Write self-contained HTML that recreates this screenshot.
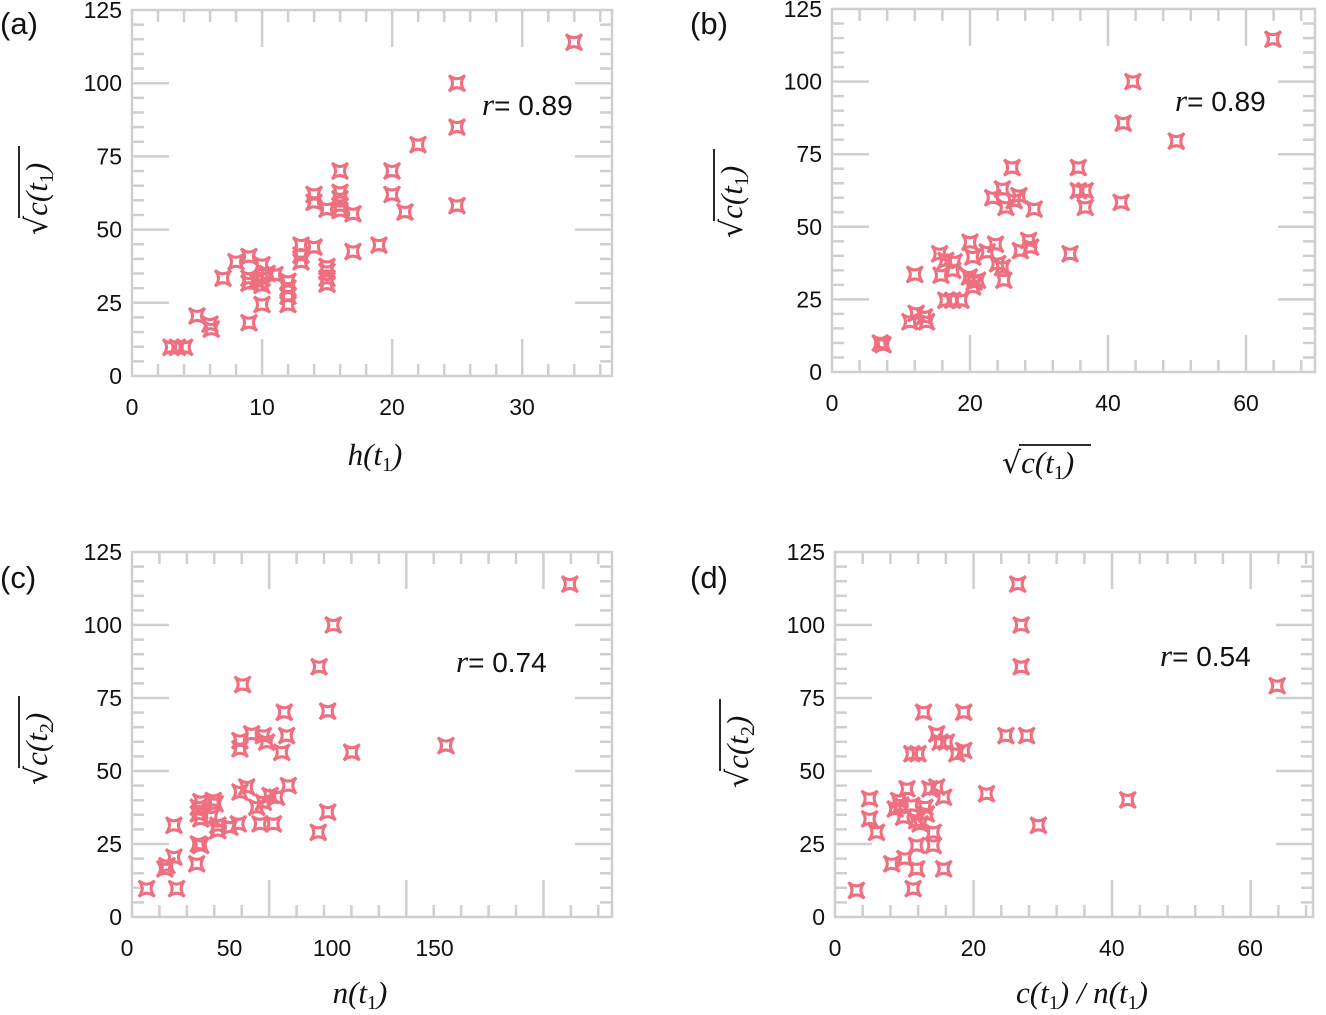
<!DOCTYPE html>
<html><head><meta charset="utf-8">
<style>
html,body{margin:0;padding:0;background:#fff;}
svg{display:block;}
.tk{font-family:"Liberation Sans",sans-serif;font-size:23px;fill:#111;}
.tag{font-family:"Liberation Sans",sans-serif;font-size:31px;fill:#111;}
.ttl{font-family:"Liberation Serif",serif;font-style:italic;font-size:31px;fill:#111;}
.rv{font-family:"Liberation Sans",sans-serif;font-size:28px;fill:#111;}
</style></head>
<body>
<svg id="fig" width="1326" height="1015" viewBox="0 0 1326 1015" xmlns="http://www.w3.org/2000/svg"></svg>
<script>
// Panel (a): h(t1) vs sqrt c(t1)
const aX = [3,4.05,3.5,5,6,6.1,7,8,9,9,9,9,10,10,10,10,9.6,10.4,11,12,12,12,12,13,13,13,14,14,14,15,15,15,15,15,16,16,16,16,16,17,17,19,20,20,21,22,25,25,25,34];
const aY = [9.8,9.8,9.8,20.5,17.7,16,33.4,39,40.8,18.2,33.4,31.7,38,24.4,33.4,31,32.5,35,34.6,32.3,30,27.3,24.4,44.7,41.3,39,44,62,59.3,57,37.4,35.7,33.4,31.4,70,62.7,60.5,58.2,56.5,55.4,42.5,44.7,70,62,56,79,100,85,58.2,114];
// Panel (b): sqrt c(t1) vs sqrt c(t1)
const bX = [7,7.4,12,11.3,12.2,13.7,13.4,15.6,15.8,16.5,17.5,18.7,16.5,17.5,17.7,20,20.4,19.9,20.6,21.1,20.4,22.5,23.7,24,24.7,24.9,23.3,24.7,25.2,26.4,27.1,26.1,27.3,28.5,28.8,29.3,34.5,35.7,35.7,36.7,36.7,41.9,42.2,43.6,49.9,63.9];
const bY = [10,9.4,33.6,17.3,20.2,17.3,19,40.7,33.3,24.7,24.7,24.7,38.4,35,37.9,44.7,39.6,32.7,31,31.6,29.3,41.3,44,37.3,36,31.6,60,63,56.7,59,60.7,70.4,41.8,45.3,43,56.1,40.7,70.4,62.4,62.4,56.7,58.4,85.7,100,79.5,114.6];
// Panel (c): n(t1) vs sqrt c(t2)
const cX = [9.6,24.2,18.5,19.5,22.9,22.9,34,34.8,36,34.8,34.8,36,36,42.1,43,41.1,44.3,44.3,50.2,54.3,55.1,58.4,63.3,64.9,71.4,66.5,69.8,73,78.7,55.1,55.1,60.8,66.5,68.1,75.5,77.9,76.7,56.4,93.3,97.9,97.9,93.7,100.6,109.6,155.6,216];
const cY = [9.7,9.7,16.5,17.6,20.5,31.4,18.2,25,24.5,37.6,35.3,33.6,39.5,39.9,38.8,34.2,31.4,29.6,30.8,31.9,42.8,44.5,37.6,31.9,31.9,39.3,41.6,41,45,60.4,57.6,62.7,62.1,59.9,56.4,62.1,70.1,79.6,29,35.9,70.5,85.7,100,56.4,58.7,114];
// Panel (d): c(t1)/n(t1) vs sqrt c(t2)
const dX = [3.1,11.3,8.2,10.1,11.8,15.7,11.8,14.2,6,5,5,8.7,9.2,9.5,9.9,10.4,11.1,11.8,12.3,13,13.2,14.2,13.7,14.7,15.7,11.1,12,12.8,14.7,15.2,16.1,17.6,18.6,18.6,21.9,24.7,27.7,29.4,26.4,26.9,26.9,42.3,63.9];
const dY = [9.1,9.7,18.2,20,16.5,16.5,24.5,24.5,29,33.6,40.5,37,39.9,38.3,34.2,43.9,38.2,33,31.9,37.6,35.3,29,43.9,44.5,41,55.9,55.9,70.1,62.7,59.9,59.9,55.9,57,70.1,42.2,62.1,62.1,31.4,114,100,85.7,40.1,79.2];
const yTickLabels = ["0","25","50","75","100","125"];
const aTickLabels = ["0","10","20","30"];
const bTickLabels = ["0","20","40","60"];
const cTickLabels = ["0","50","100","150"];
const dTickLabels = ["0","20","40","60"];

const NS = "http://www.w3.org/2000/svg";
const fig = document.getElementById('fig');
function mk(tag, attrs, parent){ const e=document.createElementNS(NS,tag); for(const k in attrs) e.setAttribute(k,attrs[k]); (parent||fig).appendChild(e); return e; }

function panel(cfg){
  const g = mk('g',{});
  
  
  const L=cfg.L,R=cfg.R,T=cfg.T,B=cfg.B;
  const sx = v => cfg.dx0 + v*cfg.dxs;
  const sy = v => B - v*(B-T)/125;
  const tx = v => L + v*(R-L)/cfg.tmax;
  const gs = "#cfcfcf";
  const fr = mk('rect',{x:L,y:T,width:R-L,height:B-T,fill:'none',stroke:gs,'stroke-width':2.5},g);
  
  
  for(let v=0; v<=cfg.tmax+1e-6; v+=cfg.tminor){
    const major = Math.abs(v/cfg.tmajor-Math.round(v/cfg.tmajor))<1e-6;
    const len = major?37:12; const x=tx(v);
    if(x<=L+1||x>=R-1) continue;
    mk('line',{x1:x,y1:B,x2:x,y2:B-len,stroke:gs,'stroke-width':2.5},g);
    mk('line',{x1:x,y1:T,x2:x,y2:T+len,stroke:gs,'stroke-width':2.5},g);
  }
  for(let v=0; v<=125; v+=5){
    const major = v%25===0; const len=major?37:12; const y=sy(v);
    if(y<=T+1||y>=B-1) continue;
    mk('line',{x1:L,y1:y,x2:L+len,y2:y,stroke:gs,'stroke-width':2.5},g);
    mk('line',{x1:R,y1:y,x2:R-len,y2:y,stroke:gs,'stroke-width':2.5},g);
  }
  yTickLabels.forEach((s,i)=>{
    const t=mk('text',{x:L-10,y:sy(i*25)+8,'text-anchor':'end',class:'tk'},g); t.textContent=s;
    
    
  });
  cfg.xlabels.forEach((s,i)=>{
    const t=mk('text',{x:sx(i*cfg.lstep),y:B+39,'text-anchor':'middle',class:'tk'},g); t.textContent=s;
    
    
  });
  cfg.xs.forEach((xv,i)=>{
    const px=sx(xv), py=sy(cfg.ys[i]);
    const p=mk('path',{d:'M-8,-8 Q0,-1 8,-8 Q1,0 8,8 Q0,1 -8,8 Q-1,0 -8,-8 Z',transform:`translate(${px},${py})`,fill:'none',stroke:'#ee7080','stroke-width':3,'stroke-linejoin':'miter'},g);
    
    
  });
  const tg=mk('text',{x:cfg.tagX,y:cfg.tagY,class:'tag'},g); tg.textContent=cfg.tag;
  
  
  const r=mk('text',{x:cfg.rX,y:cfg.rY,class:'rv'},g);
  
  
  const ri=mk('tspan',{'font-style':'italic','font-family':'Liberation Serif, serif','font-size':'31'},r); ri.textContent='r';
  const rt=mk('tspan',{},r); rt.textContent='= '+cfg.r;
  return g;
}

function sqrtTitle(parent, cx, cy, sub, rotate, name){
  const g=mk('g',{transform:`translate(${cx},${cy})`+(rotate?' rotate(-90)':'')},parent);
  
  
  const t=mk('text',{x:-43,y:11,class:'ttl'},g);
  const a=mk('tspan',{'font-style':'normal','font-family':'DejaVu Sans, sans-serif','font-size':'30'},t); a.textContent='√';
  const b=mk('tspan',{},t); b.textContent='c(t';
  const c=mk('tspan',{'font-size':'20','font-style':'normal',dy:'6'},t); c.textContent=sub;
  const d=mk('tspan',{dy:'-6'},t); d.textContent=')';
  mk('line',{x1:-26,y1:-17,x2:46,y2:-17,stroke:'#111','stroke-width':1.8},g);
}
function plainTitle(parent,cx,cy,pre,sub,post,name){
  const t=mk('text',{x:cx,y:cy,'text-anchor':'middle',class:'ttl'},parent);
  
  
  const a=mk('tspan',{},t); a.textContent=pre;
  const c=mk('tspan',{'font-size':'20','font-style':'normal',dy:'6'},t); c.textContent=sub;
  const d=mk('tspan',{dy:'-6'},t); d.textContent=post;
  return t;
}

const ga=panel({name:'panel-a',L:132,R:612,T:10,B:376,dx0:132,dxs:13,tmax:36.9,tmajor:10,tminor:2,xs:aX,ys:aY,xlabels:aTickLabels,lstep:10,tag:'(a)',tagX:0,tagY:34,rX:482,rY:115,r:'0.89'});
const gb=panel({name:'panel-b',L:832,R:1315,T:9,B:372,dx0:832,dxs:6.9,tmax:70,tmajor:20,tminor:4,xs:bX,ys:bY,xlabels:bTickLabels,lstep:20,tag:'(b)',tagX:690,tagY:34,rX:1175,rY:111,r:'0.89'});
const gc=panel({name:'panel-c',L:132,R:612,T:552,B:917,dx0:127,dxs:2.05,tmax:17.5,tmajor:5,tminor:1,xs:cX,ys:cY,xlabels:cTickLabels,lstep:50,tag:'(c)',tagX:0,tagY:588,rX:456,rY:672,r:'0.74'});
const gd=panel({name:'panel-d',L:835,R:1313,T:552,B:917,dx0:835,dxs:6.92,tmax:69,tmajor:20,tminor:4,xs:dX,ys:dY,xlabels:dTickLabels,lstep:20,tag:'(d)',tagX:690,tagY:588,rX:1160,rY:666,r:'0.54'});

plainTitle(ga,375,465,'h(t','1',')','x-axis-title');
sqrtTitle(ga,36,192,'1',true,'y-axis-title');
sqrtTitle(gb,1045,462,'1',false,'x-axis-title');
sqrtTitle(gb,731,195,'1',true,'y-axis-title');
plainTitle(gc,360,1003,'n(t','1',')','x-axis-title');
sqrtTitle(gc,36,742,'2',true,'y-axis-title');
(function(){
  const t=mk('text',{x:1082,y:1003,'text-anchor':'middle',class:'ttl'},gd);
  
  
  const parts=[['c(t',0],['1',1],[') / n(t',2],['1',1],[')',2]];
  parts.forEach(([s,k])=>{
    const sp=mk('tspan',k===1?{'font-size':'20','font-style':'normal',dy:'6'}:(k===2?{dy:'-6'}:{}),t);
    sp.textContent=s;
  });
})();
sqrtTitle(gd,737,745,'2',true,'y-axis-title');
</script>
</body></html>
